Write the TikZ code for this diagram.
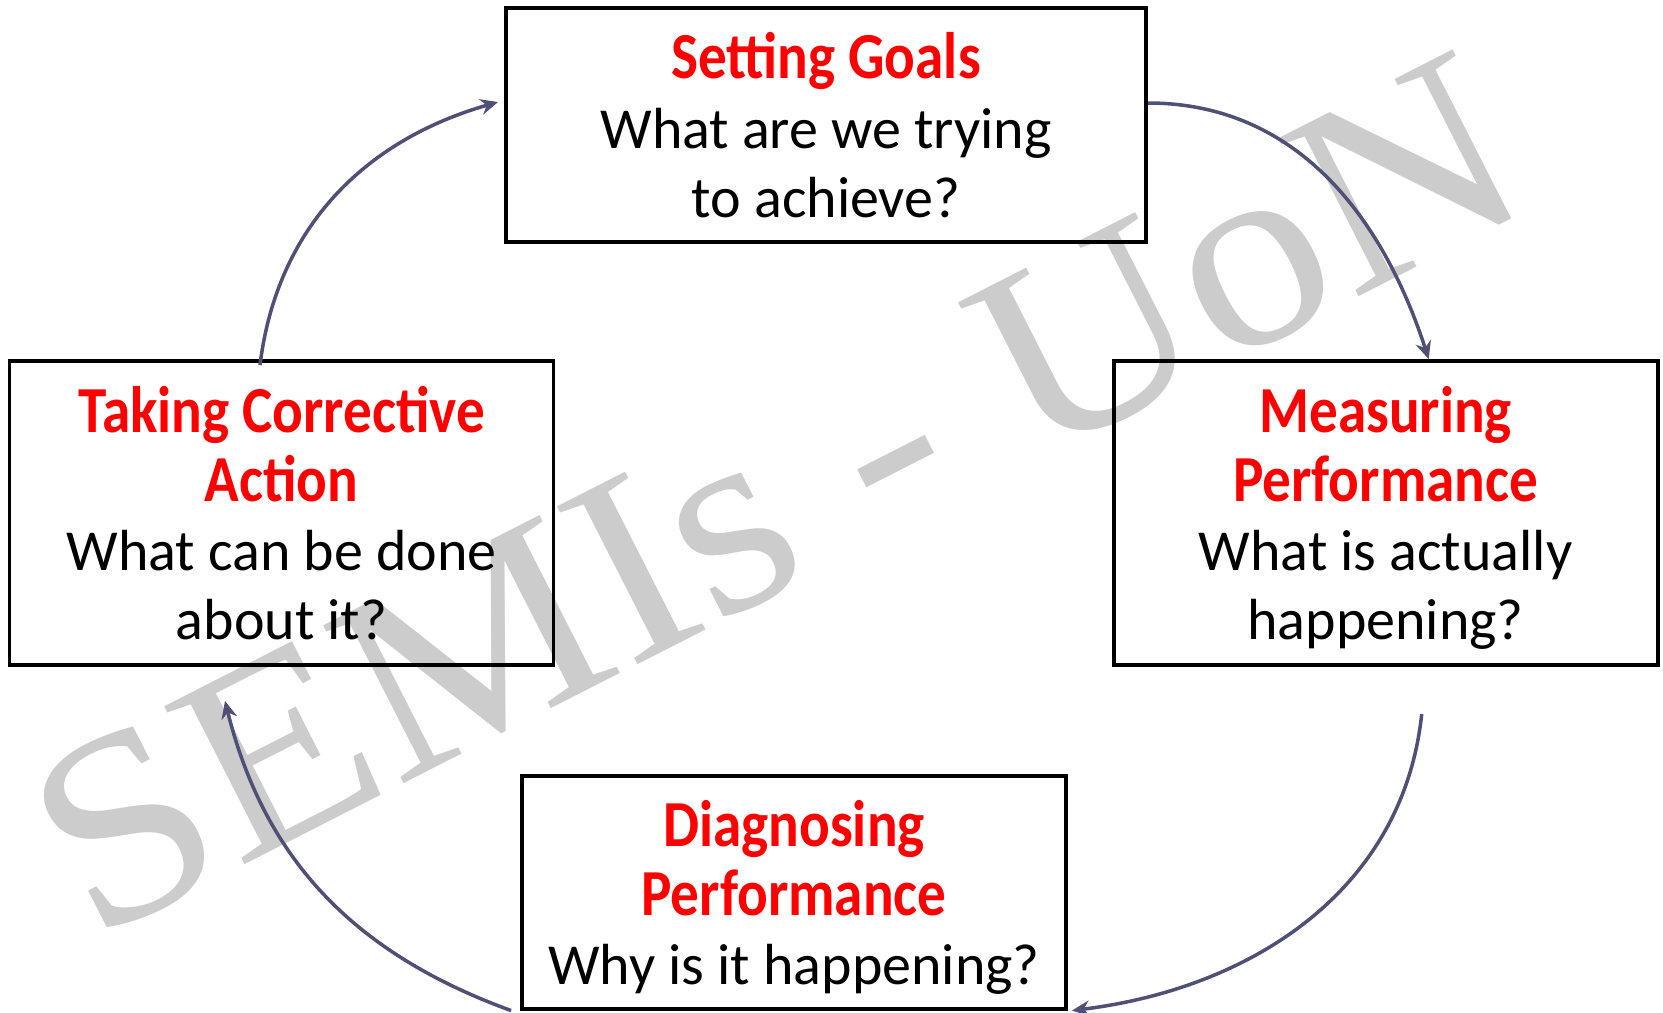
\documentclass[tikz,border=0pt]{standalone}
\usepackage{fontspec}
\usepackage{xcolor}
\usepackage{tikz}
\usetikzlibrary{arrows.meta}
\setmainfont{Carlito}
\newfontfamily\headfont[FakeStretch=0.87]{Carlito}
\newfontfamily\markfont{Liberation Serif}
\definecolor{arrowcol}{RGB}{80,80,118}
\newcommand{\stagetitle}[1]{{\headfont\bfseries\fontsize{18.7}{19.7}\selectfont\color{red}#1}}

\begin{document}
\begin{tikzpicture}[stage/.style={draw, line width=1.1pt, rectangle, inner sep=0pt, align=center, text depth=0pt, font=\fontsize{16.5}{19.7}\selectfont},
    arr/.style={draw, line width=1pt, color=arrowcol, -{Stealth[length=5pt,width=4.5pt]}},
    watermark/.style={text=black!20, rotate=27, xscale=1.08, font=\markfont\fontsize{77}{77}\selectfont}]
    \useasboundingbox (0,0) rectangle (16.63,-10.12);

    \node[watermark] (semis) at (7.76,-4.95) {SEMIs - UoN};

    \node[stage, minimum width=6.40cm, minimum height=2.335cm] (goals) at (8.26,-1.25)
      {\stagetitle{Setting Goals}\\What are we trying\\to achieve?};
    \node[stage, minimum width=5.44cm, minimum height=3.04cm] (action) at (2.815,-5.13)
      {\stagetitle{Taking Corrective}\\\stagetitle{Action}\\What can be done\\about it?};
    \node[stage, minimum width=5.44cm, minimum height=3.04cm] (measure) at (13.857,-5.13)
      {\stagetitle{Measuring}\\\stagetitle{Performance}\\What is actually\\happening?};
    \node[stage, minimum width=5.44cm, minimum height=2.326cm] (diagnose) at (7.94,-8.923)
      {\stagetitle{Diagnosing}\\\stagetitle{Performance}\\Why is it happening?};

    \coordinate (mout) at ([xshift=0.36cm,yshift=-0.47cm]measure.south);

    \draw[arr] ([yshift=0.22cm]goals.east) to[out=0, in=108] ([xshift=0.43cm]measure.north);
    \draw[arr] (mout) to[out=-96, in=7] ([xshift=0.04cm]diagnose.south east);
    \draw[arr] ([xshift=-0.09cm]diagnose.south west) to[out=160, in=-76] ([xshift=-0.565cm,yshift=-0.34cm]action.south);
    \draw[arr] ([xshift=-0.215cm,yshift=-0.06cm]action.north) to[out=83, in=-164] ([xshift=-0.06cm,yshift=0.23cm]goals.west);
  \end{tikzpicture}
\end{document}
